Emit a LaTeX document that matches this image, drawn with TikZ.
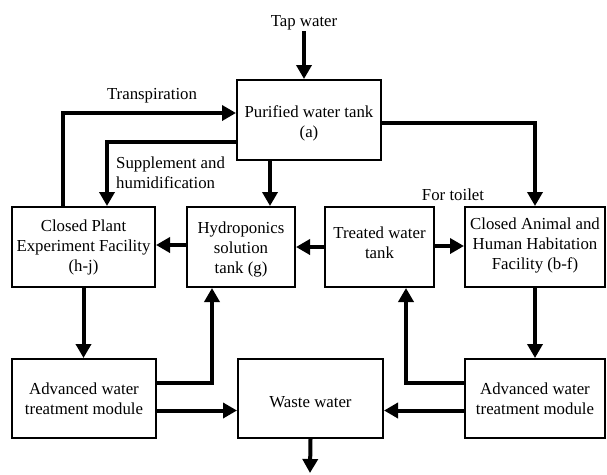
\documentclass[tikz,border=0pt]{standalone}
\usepackage{fontspec}
\setmainfont{Liberation Serif}
\usetikzlibrary{arrows.meta, positioning, calc}

\tikzset{
    unit/.style={draw, line width=2pt, inner sep=0pt, align=center,
                 minimum height=80pt},
    flow/.style={line width=4pt, -{Triangle[length=14pt,width=15pt]}},
    tag/.style={inner sep=1pt}
}

\begin{document}
\begin{tikzpicture}[x=1pt, y=-1pt, font=\fontsize{16.8pt}{20pt}\selectfont]
    \useasboundingbox (0,0) rectangle (607,474);

    % Tanks and facilities
    \node[unit, minimum width=144pt, text height=39.5pt] (pur) at (309,120) {Purified water tank\\(a)};
    \node[unit, minimum width=143pt] (cpef) at (83.5,247) {Closed Plant\\Experiment Facility\\(h-j)};
    \node[unit, minimum width=108pt, text height=56pt] (hyd) at (241,247) {Hydroponics\\solution\\tank (g)};
    \node[unit, minimum width=109pt, text depth=9pt] (trt) at (379.5,247) {Treated water\\tank};
    \node[unit, minimum width=140pt, text depth=7pt] (cahf) at (535,247) {Closed Animal and\\Human Habitation\\Facility (b-f)};

    % Treatment and waste
    \foreach \n/\x/\w in {awtl/84/144, awtr/535/140} {
        \node[unit, minimum width=\w pt, minimum height=79pt] (\n) at (\x,398.5)
            {Advanced water\\treatment module};
    }
    \node[unit, minimum width=145pt, minimum height=79pt, text height=18.5pt] (waste) at (310.5,398.5) {Waste water};

    % Labels
    \node[tag] (taplbl) at (304,23) {Tap water};
    \node[tag] at (152,96) {Transpiration};
    \node[tag, anchor=west, align=left] at (115,173) {Supplement and\\humidification};
    \node[tag] at (453,195) {For toilet};

    % Ports
    \coordinate (p2h) at (270,160);
    \coordinate (drain) at (310,473);

    % Flows
    \draw[flow] (taplbl.south) -- (taplbl.south |- pur.north);
    \draw[flow] ([xshift=-20.5pt]cpef.north) |- ([yshift=7pt]pur.west);
    \draw[flow] ([yshift=-22pt]pur.west) -| ([xshift=23.5pt]cpef.north);
    \draw[flow] (p2h) -- (p2h |- hyd.north);
    \draw[flow] ([yshift=-3pt]pur.east) -| (cahf.north);
    \draw[flow] ([yshift=2pt]hyd.west) -- ([yshift=2pt]cpef.east);
    \draw[flow] (trt.west) -- (hyd.east);
    \draw[flow] ([yshift=1pt]trt.east) -- ([yshift=1pt]cahf.west);
    \draw[flow] (cpef.south) -- (cpef.south |- awtl.north);
    \draw[flow] (cahf.south) -- (awtr.north);
    \draw[flow] ([yshift=15.5pt]awtl.east) -| ([xshift=-29pt]hyd.south);
    \draw[flow] ([yshift=15.5pt]awtr.west) -| ([xshift=26.5pt]trt.south);
    \draw[flow] ([yshift=-12pt]awtl.east) -- ([yshift=-12pt]waste.west);
    \draw[flow] ([yshift=-12pt]awtr.west) -- ([yshift=-12pt]waste.east);
    \draw[flow] (waste.south) -- (drain);
\end{tikzpicture}
\end{document}
